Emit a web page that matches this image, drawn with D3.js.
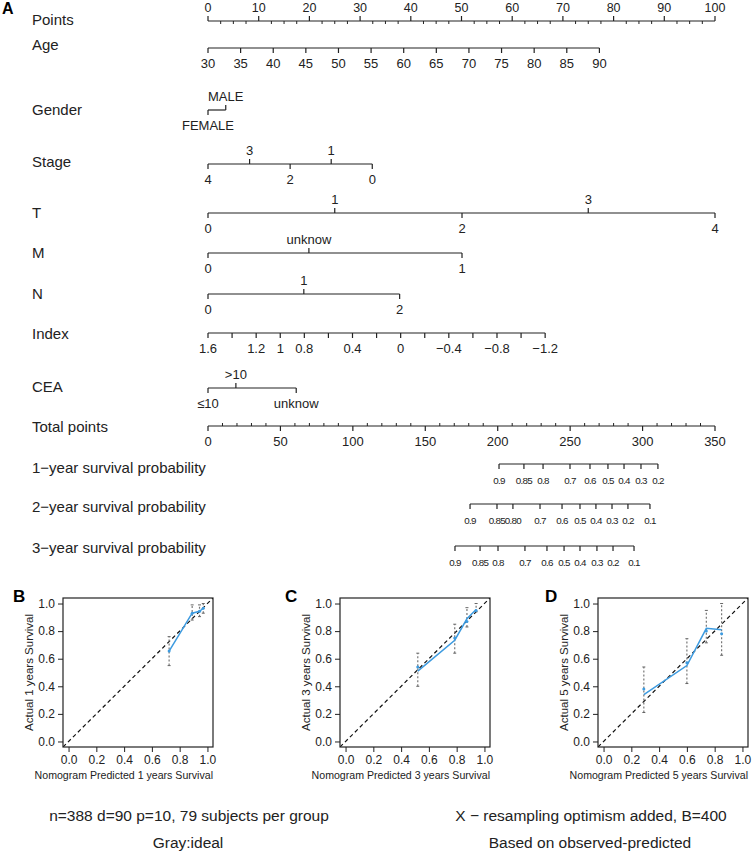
<!DOCTYPE html>
<html>
<head>
<meta charset="utf-8">
<script src="https://cdn.jsdelivr.net/npm/d3@7/dist/d3.min.js"></script>
<style>
body { margin: 0; background: #fff; }
svg { display: block; font-family: "Liberation Sans", Arial, sans-serif; }
</style>
</head>
<body>
<div id="chart"></div>
<script>
// ---- nomogram data ----
var pointsLabels = d3.range(0, 101, 10);
var pointsMinor = d3.range(0, 100.1, 2.5);

var ageLevels = d3.range(30, 91, 5);
var ageRange = [30, 90], agePoints = [0, 77.2];

var genderLevels = ['FEMALE', 'MALE'], genderPoints = [0, 3.5];
var stageLevels = ['4', '3', '2', '1', '0'], stagePoints = [0, 8.2, 16.2, 24.3, 32.4];
var tLevels = ['0', '1', '2', '3', '4'], tPoints = [0, 25, 50.1, 75, 100];
var mLevels = ['0', 'unknow', '1'], mPoints = [0, 19.9, 50.1];
var nLevels = ['0', '1', '2'], nPoints = [0, 18.9, 37.8];

var indexTicks = [1.6, 1.4, 1.2, 1, 0.8, 0.6, 0.4, 0.2, 0, -0.2, -0.4, -0.6, -0.8, -1, -1.2];
var indexLabels = [1.6, 1.2, 1, 0.8, 0.4, 0, -0.4, -0.8, -1.2];
var indexRange = [1.6, -1.2], indexPoints = [0, 66.5];

var ceaLevels = ['\u226410', '>10', 'unknow'], ceaPoints = [0, 5.5, 17.4];

var totalMinor = d3.range(0, 351, 10);
var totalLabels = d3.range(0, 351, 50);

var surv1Labels = ['0.9', '0.85', '0.8', '0.7', '0.6', '0.5', '0.4', '0.3', '0.2'];
var surv1Total = [200.9, 218.1, 231.3, 249.9, 263.7, 276.1, 287.2, 298.9, 310.6];
var surv2Labels = ['0.9', '0.85', '0.80', '0.7', '0.6', '0.5', '0.4', '0.3', '0.2', '0.1'];
var surv2Total = [180.9, 199.5, 210.5, 229.2, 244.4, 256.8, 267.8, 278.9, 289.9, 305.1];
var surv3Labels = ['0.9', '0.85', '0.8', '0.7', '0.6', '0.5', '0.4', '0.3', '0.2', '0.1'];
var surv3Total = [170.5, 187.8, 200.2, 218.8, 234.0, 245.8, 256.8, 268.5, 279.6, 294.1];

// ---- calibration data ----
var predB = [0.724, 0.89, 0.943, 0.97];
var obsB = [0.655, 0.93, 0.944, 0.966];
var loB = [0.55, 0.88, 0.905, 0.93];
var hiB = [0.76, 0.99, 0.99, 1.0];

var predC = [0.52, 0.786, 0.874, 0.94];
var obsC = [0.51, 0.734, 0.889, 0.956];
var markC = [0.54, 0.75, 0.87, 0.95];
var loC = [0.40, 0.64, 0.83, 0.94];
var hiC = [0.64, 0.85, 0.97, 1.0];

var predD = [0.29, 0.60, 0.74, 0.85];
var obsD = [0.34, 0.55, 0.82, 0.81];
var markD = [0.38, 0.57, 0.80, 0.78];
var loD = [0.21, 0.42, 0.715, 0.625];
var hiD = [0.54, 0.745, 0.95, 1.0];

var W = 752, H = 853;
var svg = d3.select('#chart').append('svg').attr('width', W).attr('height', H);
var ink = '#222';

var xPts = d3.scaleLinear().domain([0, 100]).range([208, 715]);
var xTot = d3.scaleLinear().domain([0, 350]).range([208, 715]);

function rowLabel(text, y) {
	svg.append('text').attr('x', 32).attr('y', y + 5.3)
		.attr('font-size', 15).attr('fill', ink).text(text);
}

// draws a baseline with ticks; items: {x, label, side}
function scaleRow(y, items, minor, fs, spacing) {
	var xs = items.map(function (d) { return d.x; }).concat((minor || []).map(function (d) { return d.x; }));
	var g = svg.append('g');
	g.append('line').attr('x1', d3.min(xs)).attr('x2', d3.max(xs))
		.attr('y1', y).attr('y2', y).attr('stroke', ink).attr('stroke-width', 1.2);
	(minor || []).forEach(function (d) {
		g.append('line').attr('x1', d.x).attr('x2', d.x).attr('y1', y)
			.attr('y2', d.side === 'above' ? y - 3 : y + 3)
			.attr('stroke', ink).attr('stroke-width', 1);
	});
	items.forEach(function (d) {
		g.append('line').attr('x1', d.x).attr('x2', d.x).attr('y1', y)
			.attr('y2', d.side === 'above' ? y - 5 : y + 5)
			.attr('stroke', ink).attr('stroke-width', 1.2);
		if (d.label !== undefined) {
			g.append('text').attr('x', d.x).attr('y', d.side === 'above' ? y - 9.5 : y + 19.5)
				.attr('text-anchor', 'middle').attr('font-size', fs || 13).attr('fill', ink)
				.attr('letter-spacing', spacing || 0)
				.text(d.label);
		}
	});
}

// categorical rows: labels alternate below/above sorted by points
function catRow(y, levels, pts) {
	var items = levels.map(function (l, i) { return { label: l, p: pts[i] }; })
		.sort(function (a, b) { return a.p - b.p; })
		.map(function (d, i) { return { x: xPts(d.p), label: d.label, side: i % 2 ? 'above' : 'below' }; });
	scaleRow(y, items);
}

svg.append('text').attr('x', 2).attr('y', 14).attr('font-size', 16)
	.attr('font-weight', 'bold').text('A');

// Points
rowLabel('Points', 20);
scaleRow(21, pointsLabels.map(function (p) { return { x: xPts(p), label: p, side: 'above' }; }),
	pointsMinor.filter(function (p) { return p % 10 !== 0; }).map(function (p) { return { x: xPts(p), side: 'below' }; }), 12.5);

// Age
rowLabel('Age', 45);
var ageScale = d3.scaleLinear().domain(ageRange).range(agePoints);
scaleRow(48, ageLevels.map(function (a) { return { x: xPts(ageScale(a)), label: a, side: 'below' }; }));

rowLabel('Gender', 110);
catRow(110, genderLevels, genderPoints);
rowLabel('Stage', 162);
catRow(164, stageLevels, stagePoints);
rowLabel('T', 213);
catRow(213, tLevels, tPoints);
rowLabel('M', 253);
catRow(253, mLevels, mPoints);
rowLabel('N', 294);
catRow(294, nLevels, nPoints);

// Index
rowLabel('Index', 334);
var indexScale = d3.scaleLinear().domain(indexRange).range(indexPoints);
var fmtIdx = function (v) { return String(+v.toFixed(1)).replace('-', '\u2212'); };
scaleRow(333, indexTicks.map(function (v) {
	var lab = indexLabels.some(function (l) { return Math.abs(l - v) < 1e-9; });
	return { x: xPts(indexScale(v)), label: lab ? fmtIdx(v) : undefined, side: 'below' };
}));

rowLabel('CEA', 387);
catRow(388, ceaLevels, ceaPoints);

// Total points
rowLabel('Total points', 427);
scaleRow(426, totalLabels.map(function (p) { return { x: xTot(p), label: p, side: 'below' }; }),
	totalMinor.filter(function (p) { return p % 50 !== 0; }).map(function (p) { return { x: xTot(p), side: 'above' }; }));

// survival probability rows
[['1\u2212year survival probability', 468, 464, surv1Labels, surv1Total],
 ['2\u2212year survival probability', 507, 504, surv2Labels, surv2Total],
 ['3\u2212year survival probability', 548, 546, surv3Labels, surv3Total]].forEach(function (r) {
	rowLabel(r[0], r[1]);
	scaleRow(r[2], r[3].map(function (l, i) { return { x: xTot(r[4][i]), label: l, side: 'below' }; }), null, 9.8, -0.7);
});

// ---- calibration panels ----
function calPanel(letter, left, letterDx, years, pred, obs, mark, lo, hi) {
	var top = 598, bottom = 747, right = left + 150;
	var x = d3.scaleLinear().domain([-0.04, 1.04]).range([left, right]);
	var y = d3.scaleLinear().domain([-0.04, 1.04]).range([bottom, top]);
	var g = svg.append('g');
	var clipId = 'clip' + letter;
	g.append('clipPath').attr('id', clipId).append('rect')
		.attr('x', left).attr('y', top).attr('width', right - left).attr('height', bottom - top);

	var xAxis = d3.axisBottom(x).tickValues(d3.range(0, 1.01, 0.2)).tickFormat(d3.format('.1f')).tickSize(5).tickPadding(3);
	var yAxis = d3.axisLeft(y).tickValues(d3.range(0, 1.01, 0.2)).tickFormat(d3.format('.1f')).tickSize(5).tickPadding(3);
	g.append('g').attr('transform', 'translate(0,' + bottom + ')').call(xAxis);
	g.append('g').attr('transform', 'translate(' + left + ',0)').call(yAxis);
	g.selectAll('.domain').remove();
	g.selectAll('.tick line').attr('stroke', ink);
	g.selectAll('.tick text').attr('font-size', 12).attr('fill', ink)
		.attr('font-family', '"Liberation Sans", Arial, sans-serif');

	var pg = g.append('g').attr('clip-path', 'url(#' + clipId + ')');
	pg.append('line').attr('x1', x(-0.04)).attr('y1', y(-0.04)).attr('x2', x(1.04)).attr('y2', y(1.04))
		.attr('stroke', '#111').attr('stroke-width', 1.2).attr('stroke-dasharray', '4,3');

	pred.forEach(function (p, i) {
		pg.append('line').attr('x1', x(p)).attr('x2', x(p)).attr('y1', y(lo[i])).attr('y2', y(hi[i]))
			.attr('stroke', '#777').attr('stroke-width', 1.2).attr('stroke-dasharray', '2,2');
		[lo[i], hi[i]].forEach(function (v) {
			pg.append('line').attr('x1', x(p) - 1.5).attr('x2', x(p) + 1.5).attr('y1', y(v)).attr('y2', y(v))
				.attr('stroke', '#666').attr('stroke-width', 1);
		});
	});

	var line = d3.line().x(function (d) { return x(d[0]); }).y(function (d) { return y(d[1]); });
	pg.append('path').datum(pred.map(function (p, i) { return [p, obs[i]]; }))
		.attr('d', line).attr('fill', 'none').attr('stroke', '#3d9be0').attr('stroke-width', 1.5);
	pg.selectAll('circle.m').data(pred).enter().append('circle')
		.attr('cx', function (p) { return x(p); })
		.attr('cy', function (p, i) { return y(mark[i]); })
		.attr('r', 1.5).attr('fill', '#3d9be0');

	g.append('rect').attr('x', left).attr('y', top).attr('width', right - left).attr('height', bottom - top)
		.attr('fill', 'none').attr('stroke', ink).attr('stroke-width', 1.2);

	g.append('text').attr('x', right).attr('y', 779).attr('text-anchor', 'end')
		.attr('font-size', 10.6).attr('fill', ink).text('Nomogram Predicted ' + years + ' years Survival');
	g.append('text').attr('transform', 'translate(' + (left - 30) + ',' + ((top + bottom) / 2) + ') rotate(-90)')
		.attr('text-anchor', 'middle').attr('font-size', 11.5).attr('fill', ink)
		.text('Actual ' + years + ' years Survival');
	g.append('text').attr('x', left - letterDx).attr('y', top + 4).attr('font-size', 17)
		.attr('font-weight', 'bold').attr('fill', '#000').text(letter);
}

calPanel('B', 63, 50, 1, predB, obsB, obsB, loB, hiB);
calPanel('C', 340, 55, 3, predC, obsC, markC, loC, hiC);
calPanel('D', 598, 53, 5, predD, obsD, markD, loD, hiD);

// footnotes
[['n=388 d=90 p=10, 79 subjects per group', 189, 821],
 ['Gray:ideal', 188, 848],
 ['X \u2212 resampling optimism added, B=400', 591, 821],
 ['Based on observed-predicted', 590, 848]].forEach(function (t) {
	svg.append('text').attr('x', t[1]).attr('y', t[2]).attr('text-anchor', 'middle')
		.attr('font-size', 15.5).attr('fill', ink).text(t[0]);
});
</script>
</body>
</html>
